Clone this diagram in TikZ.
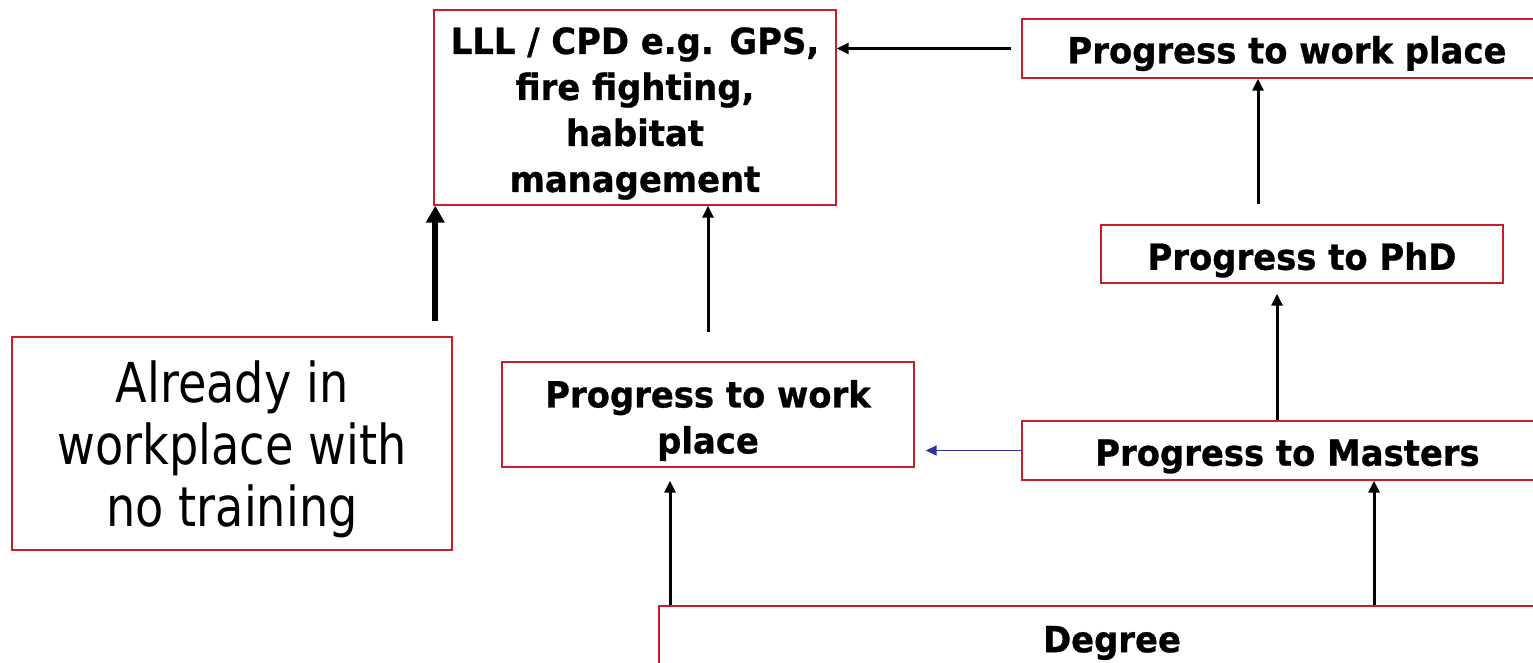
\documentclass[tikz,border=0pt]{standalone}
\usepackage{fontspec}
\usetikzlibrary{arrows.meta,calc}
\newfontfamily\boldface[FakeStretch=0.94,FakeBold=0.8]{DejaVu Sans Bold}
\newfontfamily\plainface[FakeStretch=0.84]{DejaVu Sans}
\definecolor{boxred}{RGB}{200,30,40}
\definecolor{linkblue}{RGB}{50,50,160}
\begin{document}
\begin{tikzpicture}[x=1pt,y=1pt,
  frame/.style={draw=boxred,line width=1.4pt,fill=white,inner sep=0pt},
  boldtext/.style={inner sep=0pt,align=center,font=\boldface\fontsize{36}{46}\selectfont},
  plaintext/.style={inner sep=0pt,align=center,font=\plainface\fontsize{55}{62}\selectfont},
  arr/.style={line width=3pt,-{Triangle[length=12pt,width=11pt]}},
  thickarr/.style={line width=6pt,-{Triangle[length=17pt,width=18pt]}},
  bluearr/.style={draw=linkblue,line width=1.8pt,-{Triangle[length=11pt,width=10pt]}}]
\clip (0,0) rectangle (1533,663);
\fill[white] (0,0) rectangle (1533,663);

% boxes
\node[frame,minimum width=402,minimum height=195] (lll) at (635,555.5) {};
\node[frame,minimum width=530,minimum height=59] (wp2) at (1287,614.5) {};
\node[frame,minimum width=402,minimum height=58] (phd) at (1302,409) {};
\node[frame,minimum width=440,minimum height=213] (already) at (232,219.5) {};
\node[frame,minimum width=412,minimum height=105] (wp1) at (708,248.5) {};
\node[frame,minimum width=531,minimum height=59] (masters) at (1287.5,212.5) {};
\node[frame,minimum width=906,minimum height=64] (degree) at (1112,25) {};

% box texts
\node[boldtext] (llltext) at ($(lll.center)+(0,-6)$)
  {LLL / CPD e.g. GPS,\\fire fighting,\\habitat\\management};
\node[boldtext] (wp2text) at ($(wp2.center)+(0,-5)$) {Progress to work place};
\node[boldtext] (phdtext) at ($(phd.center)+(0,-6)$) {Progress to PhD};
\node[plaintext] (alreadytext) at ($(already.center)+(0,-6)$)
  {Already in\\workplace with\\no training};
\node[boldtext] (wp1text) at ($(wp1.center)+(0,-6)$) {Progress to work\\place};
\node[boldtext] (masterstext) at ($(masters.center)+(0,-6)$) {Progress to Masters};
\node[boldtext] (degreetext) at ($(degree.center)+(0,-5)$) {Degree};

% anchor points for the vertical links
\coordinate (phdout) at ($(phd.north)+(-44,0)$);
\coordinate (mastersout) at ($(masters.north)+(-10.5,0)$);
\coordinate (degreeright) at ($(degree.north)+(262,0)$);
\coordinate (degreeleft) at ($(degree.north)+(-442,0)$);
\coordinate (lllcorner) at ($(lll.south west)+(2,0)$);

% links
\draw[arr,shorten <=10] (wp2.west) -- (wp2.west -| lll.east);
\draw[arr,shorten <=20] (phdout) -- (phdout |- wp2.south);
\draw[arr,shorten >=10] (mastersout) -- (mastersout |- phd.south);
\draw[arr] (degreeright) -- (degreeright |- masters.south);
\draw[arr,shorten >=13] (degreeleft) -- (degreeleft |- wp1.south);
\draw[arr,shorten <=29] (wp1.north) -- (wp1.north |- lll.south);
\draw[thickarr,shorten <=15] (lllcorner |- already.north) -- (lllcorner);
\draw[bluearr,shorten >=11] (masters.west) -- (masters.west -| wp1.east);
\end{tikzpicture}
\end{document}
